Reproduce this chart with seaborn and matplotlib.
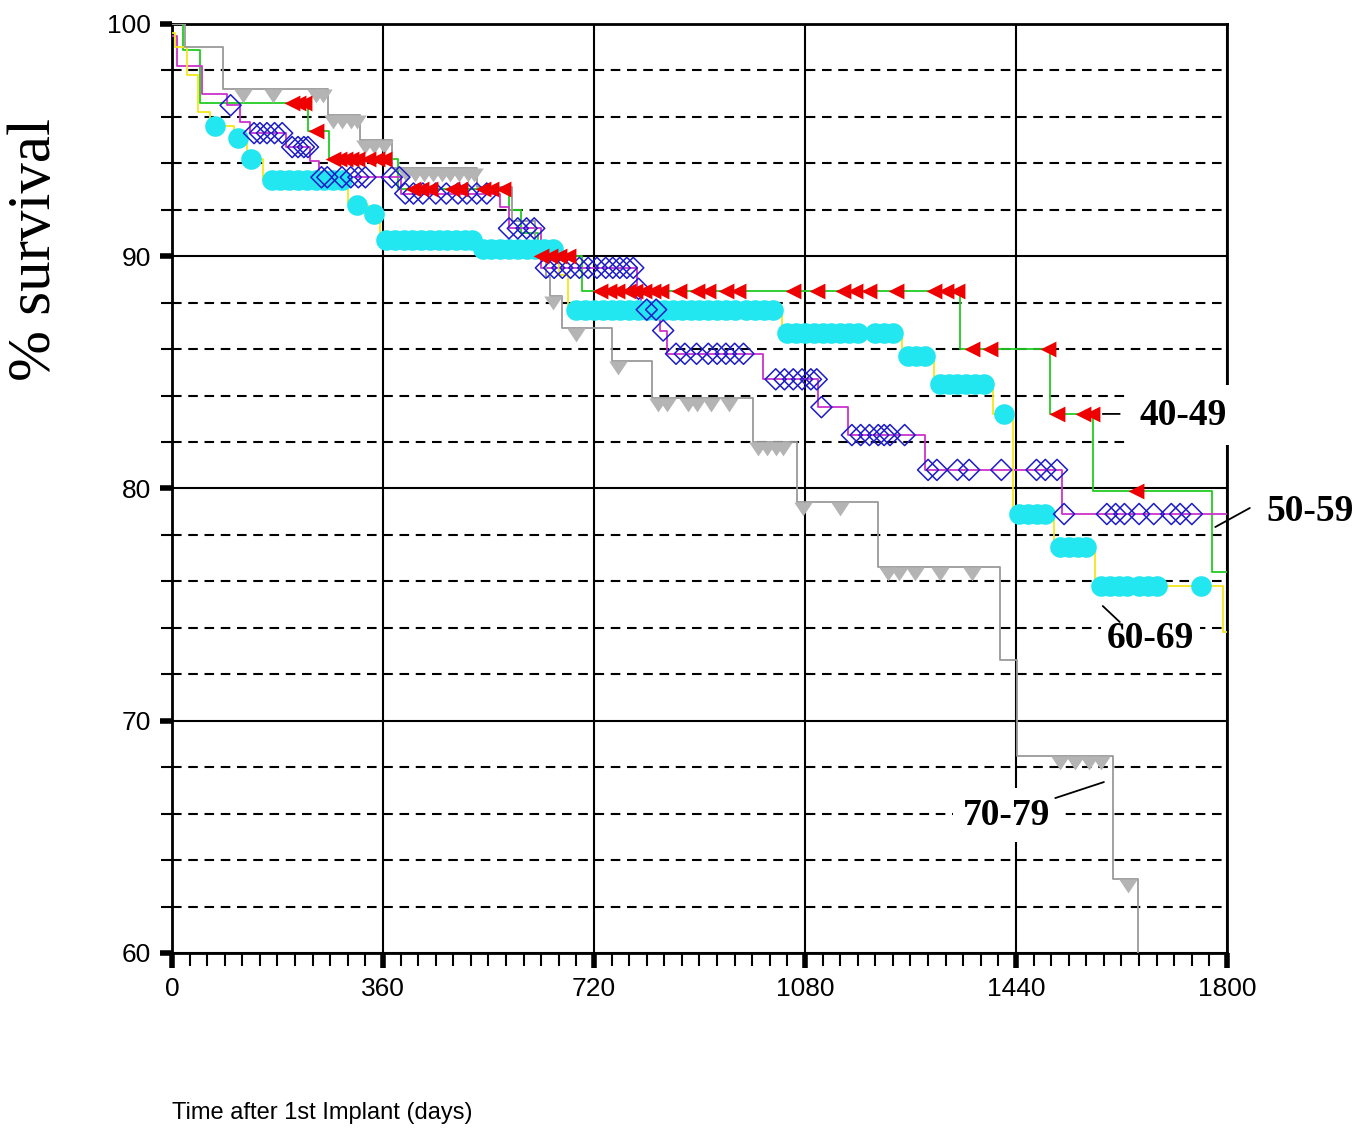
import numpy as np
import pandas as pd
import seaborn as sns
import matplotlib.pyplot as plt
from matplotlib.ticker import MultipleLocator

sns.set_style("white")
plt.rcParams['font.family'] = ['Liberation Sans', 'DejaVu Sans']
plt.rcParams['text.color'] = 'black'
plt.rcParams['xtick.color'] = 'black'
plt.rcParams['ytick.color'] = 'black'

# Kaplan-Meier steps (days, % survival)
t40 = [0, 19, 48, 232, 268, 385, 575, 595, 625, 700, 1345, 1498, 1572, 1774, 1800]
s40 = [100, 98.9, 96.6, 95.4, 94.2, 92.9, 92.0, 91.0, 90.0, 88.5, 86.0, 83.2, 79.9, 76.4, 76.4]

t50 = [0, 8, 52, 94, 116, 133, 195, 235, 250, 390, 560, 575, 630, 793, 800, 832, 845,
       1008, 1103, 1153, 1285, 1518, 1800]
s50 = [99.5, 98.2, 97.0, 96.5, 95.8, 95.3, 94.7, 94.1, 93.4, 92.7, 92.1, 91.2, 89.5, 88.6,
       87.7, 86.8, 85.8, 84.7, 83.5, 82.3, 80.8, 78.9, 78.9]

t60 = [0, 5, 25, 45, 65, 105, 128, 155, 300, 335, 355, 520, 660, 676, 1040, 1245, 1300,
       1400, 1435, 1505, 1575, 1793, 1800]
s60 = [99.6, 99.0, 97.8, 96.2, 95.6, 95.1, 94.2, 93.3, 92.2, 91.8, 90.7, 90.3, 89.2, 87.7,
       86.7, 85.7, 84.5, 83.2, 78.9, 77.5, 75.8, 73.8, 73.8]

t70 = [0, 22, 87, 266, 321, 375, 520, 580, 620, 638, 645, 665, 750, 819, 991, 1066, 1205,
       1413, 1442, 1605, 1648]
s70 = [100, 99.0, 97.2, 96.1, 95.0, 93.8, 93.0, 91.5, 90.2, 89.1, 88.3, 86.9, 85.5, 83.9,
       82.0, 79.4, 76.6, 72.6, 68.5, 63.2, 55]

# censored cases (markers)
m40_t = [205, 215, 225, 245, 275, 285, 295, 305, 315, 335, 350, 362,
         412, 425, 440, 478, 492, 530, 545, 565, 630, 645, 660, 675,
         730, 745, 760, 778, 790, 805, 820, 835, 865, 895, 915, 945, 965,
         1060, 1100, 1145, 1165, 1190, 1235, 1300, 1320, 1340,
         1365, 1395, 1495, 1510, 1555, 1570, 1645]
m40_s = ([96.6] * 3 + [95.4] + [94.2] * 8 + [92.9] * 8 + [90.0] * 4 + [88.5] * 22
         + [86.0] * 3 + [83.2] * 3 + [79.9])

m50_t = [100, 140, 150, 162, 175, 188, 205, 215, 225, 232,
         255, 265, 290, 305, 318, 330, 375, 388,
         398, 412, 428, 450, 468, 488, 503, 520, 537,
         575, 590, 605, 618,
         638, 652, 666, 680, 695, 710, 725, 740, 752, 764, 776, 787,
         796, 810, 826, 838,
         860, 875, 895, 915, 930, 945, 960, 975,
         1030, 1045, 1060, 1075, 1090, 1100, 1108,
         1160, 1175, 1190, 1205, 1215, 1225, 1250,
         1290, 1305, 1340, 1360, 1415, 1475, 1490, 1510,
         1522, 1595, 1610, 1625, 1650, 1675, 1705, 1720, 1740]
m50_s = ([96.5] + [95.3] * 5 + [94.7] * 4 + [93.4] * 8 + [92.7] * 9 + [91.2] * 4
         + [89.5] * 12 + [88.6] + [87.7] * 2 + [86.8] + [85.8] * 8 + [84.7] * 6 + [83.5]
         + [82.3] * 7 + [80.8] * 8 + [78.9] * 9)

m60_t = [73, 113, 135, 170, 185, 200, 215, 230, 245, 260, 275, 290, 315, 345,
         365, 380, 395, 410, 425, 440, 455, 470, 485, 500, 512,
         530, 545, 560, 575, 590, 605, 620, 635, 650,
         690, 705, 720, 735, 750, 765, 780, 795, 810, 825, 840, 855, 870, 885, 900,
         915, 930, 945, 960, 980, 995, 1010, 1025,
         1050, 1065, 1080, 1095, 1110, 1125, 1140, 1155, 1170, 1200, 1215, 1230,
         1255, 1270, 1285, 1310, 1325, 1340, 1355, 1370, 1385, 1420,
         1445, 1460, 1475, 1490, 1515, 1530, 1545, 1560,
         1585, 1600, 1615, 1630, 1650, 1665, 1680, 1755]
m60_s = ([95.6, 95.1, 94.2] + [93.3] * 9 + [92.2, 91.8] + [90.7] * 11 + [90.3] * 9
         + [87.7] * 23 + [86.7] * 12 + [85.7] * 3 + [84.5] * 6 + [83.2]
         + [78.9] * 4 + [77.5] * 4 + [75.8] * 8)

m70_t = [121, 172, 245, 258, 275, 290, 305, 316, 330, 345, 362,
         400, 415, 430, 445, 460, 475, 490, 505, 515,
         650, 690, 761, 830, 845, 880, 895, 920, 950,
         1000, 1015, 1030, 1042, 1077, 1140,
         1222, 1240, 1268, 1310, 1365, 1515, 1540, 1565, 1585, 1631]
m70_s = ([97.2] * 4 + [96.1] * 4 + [95.0] * 3 + [93.8] * 9 + [88.3, 86.9, 85.5]
         + [83.9] * 6 + [82.0] * 4 + [79.4] * 2 + [76.6] * 5 + [68.5] * 4 + [63.2])

groups = ['40-49', '50-59', '60-69', '70-79']
line_colors = {'40-49': '#22cc22', '50-59': '#cc33cc', '60-69': '#f5e61a', '70-79': '#9a9a9a'}

curves = pd.concat([
    pd.DataFrame({'days': t, 'survival': s, 'age': g})
    for g, t, s in zip(groups, [t40, t50, t60, t70], [s40, s50, s60, s70])
])

# downward triangle hanging under the curve (top edge on the point)
hang_tri = [(-1, 0), (1, 0), (0, -1.5), (-1, 0)]

fig = plt.figure(figsize=(13.65, 11.31), dpi=100)
ax = fig.add_axes([0.126, 0.1574, 0.7729, 0.8214])

sns.lineplot(data=curves, x='days', y='survival', hue='age', palette=line_colors,
             drawstyle='steps-post', estimator=None, sort=False, legend=False,
             linewidth=1.3, ax=ax, zorder=3)

sns.scatterplot(x=m70_t, y=m70_s, marker=hang_tri, color='#b4b4b4', edgecolor='#b4b4b4',
                s=400, linewidth=0, ax=ax, zorder=4)
sns.scatterplot(x=m60_t, y=m60_s, marker='o', color='#22e6f0', edgecolor='#22e6f0',
                s=220, linewidth=0, ax=ax, zorder=4)
sns.scatterplot(x=m50_t, y=m50_s, marker='D', color='#1c1cc8', facecolor='none',
                edgecolor='#1c1cc8', s=115, linewidth=1.1, ax=ax, zorder=5)
sns.scatterplot(x=m40_t, y=m40_s, marker='<', color='#ee0000', edgecolor='#ee0000',
                s=130, linewidth=0, ax=ax, zorder=6)

ax.set_xlim(0, 1800)
ax.set_ylim(60, 100)
ax.xaxis.set_major_locator(MultipleLocator(360))
ax.xaxis.set_minor_locator(MultipleLocator(30))
ax.yaxis.set_major_locator(MultipleLocator(10))
ax.yaxis.set_minor_locator(MultipleLocator(2))
ax.set_xlabel('')
ax.set_ylabel('')

ax.set_axisbelow(True)
ax.grid(which='major', color='black', linewidth=1.5, linestyle='-')
ax.grid(which='minor', axis='y', color='black', linewidth=1.5, linestyle=(0, (4.6, 3.2)))
ax.grid(which='minor', axis='x', visible=False)

for side in ['left', 'bottom', 'top', 'right']:
    ax.spines[side].set_color('black')
    ax.spines[side].set_linewidth(2)

ax.tick_params(axis='both', which='major', labelsize=19, colors='black', width=4)
ax.tick_params(axis='x', which='major', length=11, pad=6)
ax.tick_params(axis='y', which='major', length=9, pad=6)
ax.tick_params(axis='x', which='minor', length=9, width=1.5, color='black')
ax.tick_params(axis='y', which='minor', length=8, width=1.5, color='black')
ax.tick_params(bottom=True, left=True, which='both')

# group labels with white boxes, and their short leader lines
lab = dict(fontsize=27, fontweight='bold', family='Liberation Serif', ha='center',
           va='center', clip_on=False, zorder=8)
ax.text(1725, 83.16, '40-49', bbox=dict(facecolor='white', edgecolor='none', pad=9), **lab)
ax.text(1941, 78.99, '50-59', bbox=dict(facecolor='white', edgecolor='none', pad=4), **lab)
ax.text(1669, 73.56, '60-69', bbox=dict(facecolor='white', edgecolor='none', pad=4), **lab)
ax.text(1424, 65.94, '70-79', bbox=dict(facecolor='white', edgecolor='none', pad=7), **lab)

leader = dict(arrowprops=dict(arrowstyle='-', color='black', lw=1.3, shrinkA=0, shrinkB=0),
              annotation_clip=False, zorder=9)
ax.annotate('', xy=(1588, 83.21), xytext=(1617, 83.21), **leader)
ax.annotate('', xy=(1780, 78.34), xytext=(1839, 79.16), **leader)
ax.annotate('', xy=(1588, 74.94), xytext=(1617, 74.25), **leader)
ax.annotate('', xy=(1590, 67.36), xytext=(1507, 66.67), **leader)

fig.text(0.0256, 0.779, '% survival', rotation=90, fontsize=44, family='Liberation Serif',
         ha='center', va='center')
fig.text(0.126, 0.0159, 'Time after 1st Implant (days)', fontsize=17, ha='left', va='center')

fig.savefig('out.png', dpi=100, facecolor='white')
